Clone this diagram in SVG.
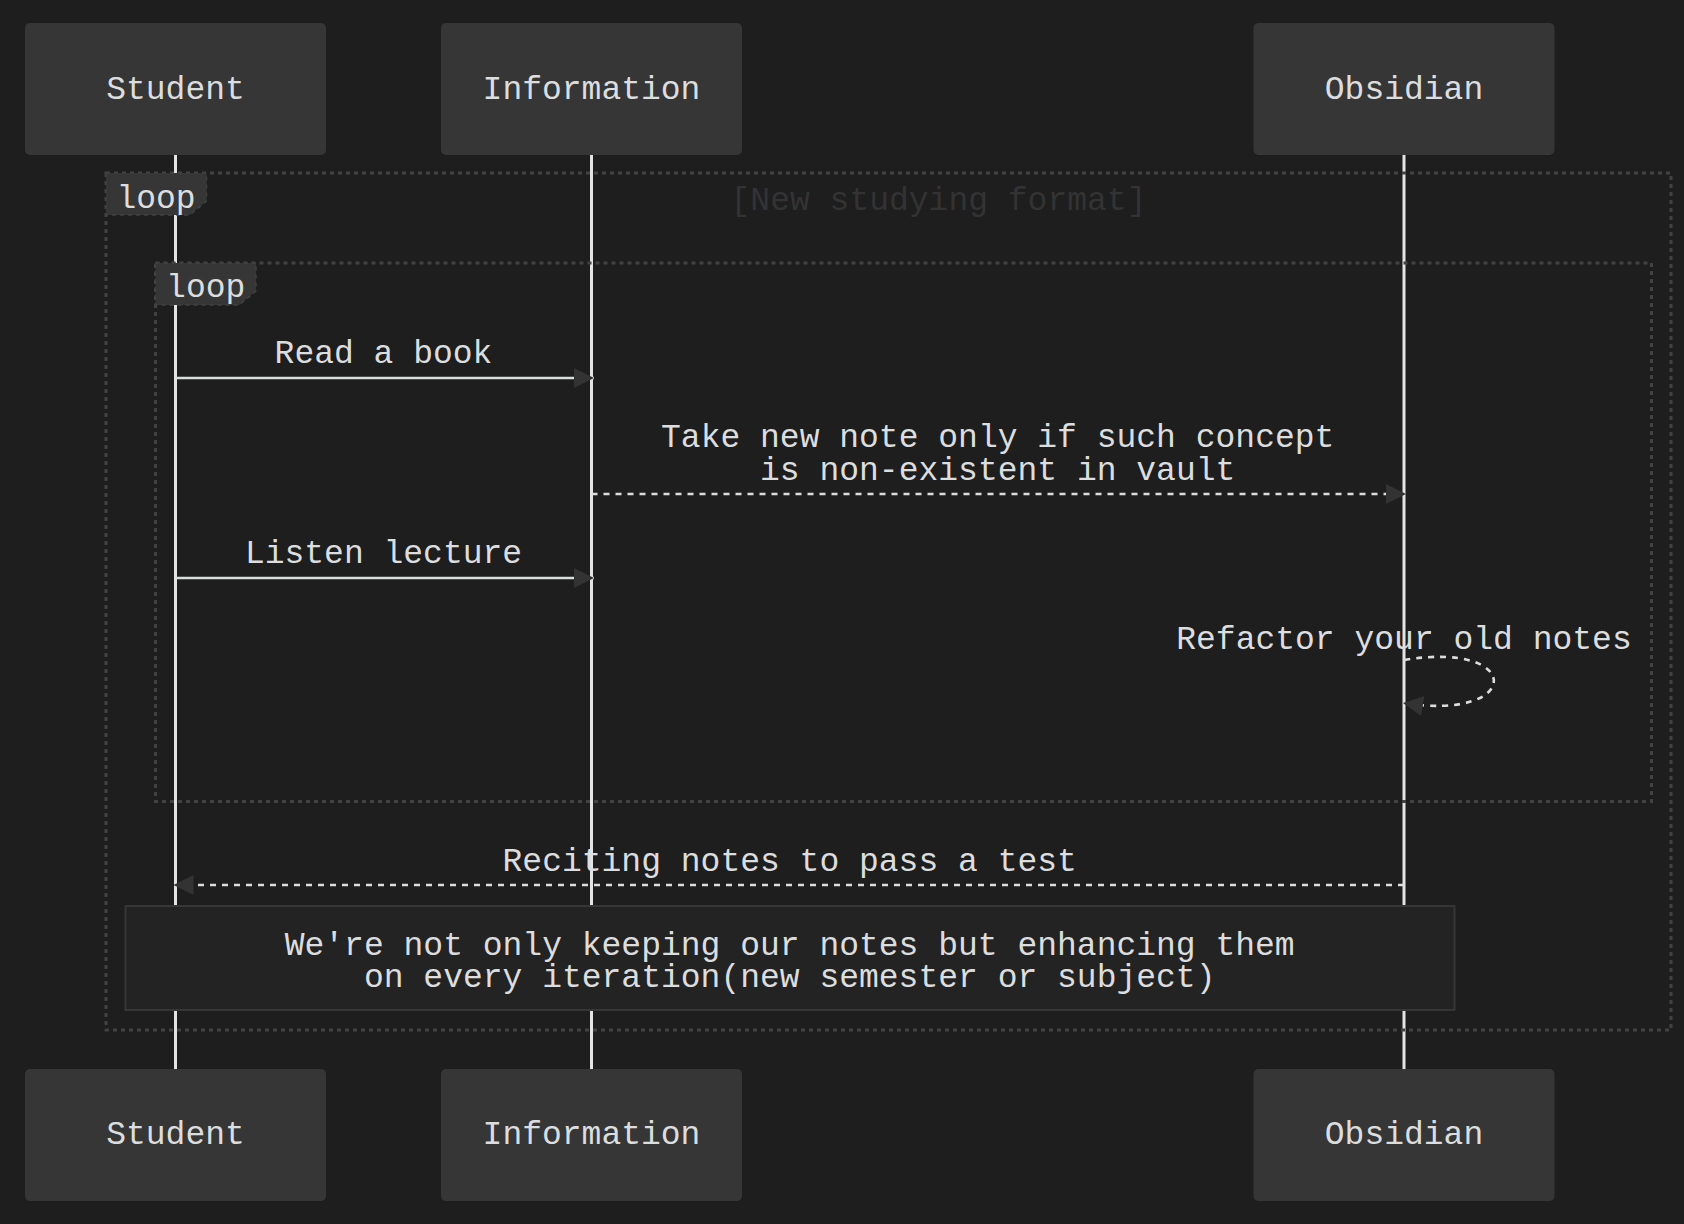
<svg xmlns="http://www.w3.org/2000/svg" width="1684" height="1224" viewBox="0 0 1684 1224">
<defs>
<style>
.bg{fill:#1e1e1e}
.actor rect{fill:#363636;stroke:none}
.t{font-family:"Liberation Mono","DejaVu Sans Mono",monospace;font-size:33px;fill:#dcddde}
.mid{text-anchor:middle}
.life{stroke:#e4e4e4;stroke-width:3;fill:none}
.loopline{fill:none;stroke:#424242;stroke-width:3;stroke-dasharray:4 4}
.lbox{fill:#363636;stroke:#424242;stroke-width:1.5;stroke-dasharray:4 4}
.cond{fill:#333333}
.msg{fill:none;stroke:#dcddde;stroke-width:2.6}
.dot{stroke-dasharray:6 6}
.note{fill:#232323;stroke:#363636;stroke-width:2}
</style>
<marker id="ah" markerUnits="userSpaceOnUse" viewBox="0 0 10 10" markerWidth="20" markerHeight="21" refX="10" refY="5" orient="auto">
<path d="M0,0 L10,5 L0,10 z" fill="#333333"/>
</marker>
</defs>
<rect class="bg" x="0" y="0" width="1684" height="1224"/>

<g id="lifelines">
<line class="life" x1="175.5" y1="155" x2="175.5" y2="1069"/>
<line class="life" x1="591.5" y1="155" x2="591.5" y2="1069"/>
<line class="life" x1="1404" y1="155" x2="1404" y2="1069"/>
</g>

<g id="actor-student-top" class="actor"><rect x="25" y="23" width="301" height="132" rx="5"/><text class="t mid" x="175.5" y="98.5">Student</text></g>
<g id="actor-information-top" class="actor"><rect x="441" y="23" width="301" height="132" rx="5"/><text class="t mid" x="591.5" y="98.5">Information</text></g>
<g id="actor-obsidian-top" class="actor"><rect x="1253.5" y="23" width="301" height="132" rx="5"/><text class="t mid" x="1404" y="98.5">Obsidian</text></g>

<g id="loop-outer">
<rect class="loopline" x="106" y="173" width="1565" height="857"/>
<polygon class="lbox" points="106,173 206.5,173 206.5,201 189.7,215 106,215"/>
<text class="t mid" x="156" y="208">loop</text>
<text class="t mid cond" x="938.5" y="210">[New studying format]</text>
</g>

<g id="loop-inner">
<rect class="loopline" x="155.5" y="263" width="1496" height="538.5"/>
<polygon class="lbox" points="155.5,263 256,263 256,291 239.2,305 155.5,305"/>
<text class="t mid" x="205.7" y="297">loop</text>
</g>

<g id="connectors">
<line class="msg" x1="175.5" y1="378" x2="594" y2="378" marker-end="url(#ah)"/>
<text class="t mid" x="383.5" y="363">Read a book</text>
<line class="msg dot" x1="591.5" y1="494" x2="1406" y2="494" marker-end="url(#ah)"/>
<text class="t mid" x="997.7" y="447">Take new note only if such concept</text>
<text class="t mid" x="997.7" y="479.5">is non-existent in vault</text>
<line class="msg" x1="175.5" y1="578" x2="594" y2="578" marker-end="url(#ah)"/>
<text class="t mid" x="383.5" y="563">Listen lecture</text>
<text class="t mid" x="1404" y="648.5">Refactor your old notes</text>
<path class="msg dot" d="M1404,660 C1524,640 1524,722 1403,703" marker-end="url(#ah)"/>
<line class="msg dot" x1="1404" y1="885" x2="173.5" y2="885" marker-end="url(#ah)"/>
<text class="t mid" x="789.7" y="871">Reciting notes to pass a test</text>
</g>

<g id="note">
<rect class="note" x="125.5" y="906" width="1329" height="104"/>
<text class="t mid" x="789.7" y="955">We're not only keeping our notes but enhancing them</text>
<text class="t mid" x="789.7" y="987">on every iteration(new semester or subject)</text>
</g>

<g id="actor-student-bottom" class="actor"><rect x="25" y="1069" width="301" height="132" rx="5"/><text class="t mid" x="175.5" y="1143.5">Student</text></g>
<g id="actor-information-bottom" class="actor"><rect x="441" y="1069" width="301" height="132" rx="5"/><text class="t mid" x="591.5" y="1143.5">Information</text></g>
<g id="actor-obsidian-bottom" class="actor"><rect x="1253.5" y="1069" width="301" height="132" rx="5"/><text class="t mid" x="1404" y="1143.5">Obsidian</text></g>
</svg>
